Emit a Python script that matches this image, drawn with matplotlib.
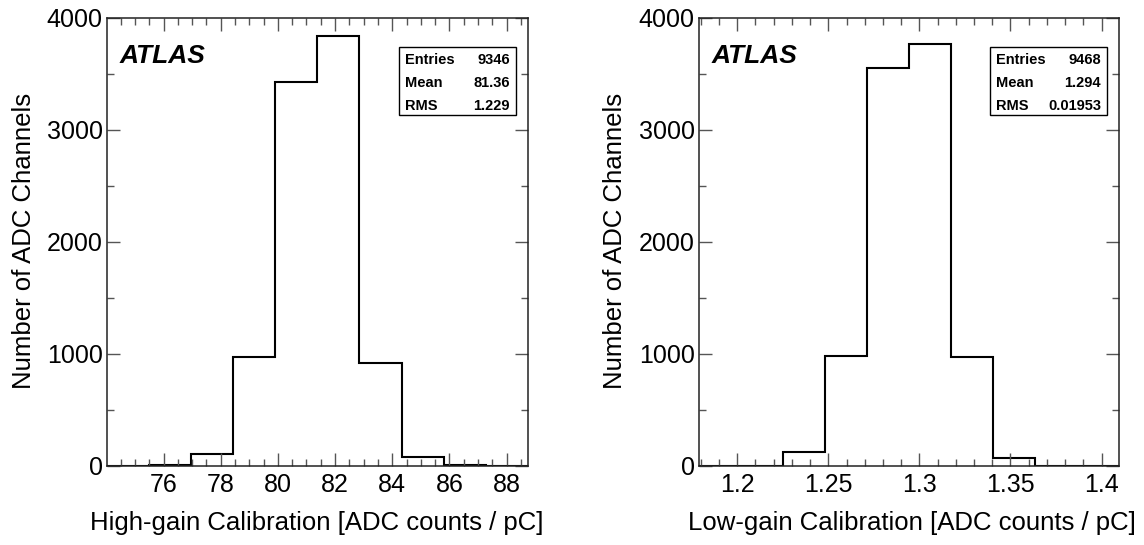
import numpy as np
import matplotlib
matplotlib.use("Agg")
import matplotlib.pyplot as plt
from matplotlib.ticker import MultipleLocator
from matplotlib.patches import Rectangle

plt.rcParams['font.family'] = ['Liberation Sans', 'DejaVu Sans']

# high-gain histogram (10 bins)
hg_edges = np.linspace(74.0, 88.75, 11)
hg_counts = [0, 3, 102, 970, 3425, 3835, 920, 80, 3, 0]
hg_stats = ["9346", "81.36", "1.229"]

# low-gain histogram (10 bins)
lg_edges = np.linspace(1.179, 1.4096, 11)
lg_counts = [0, 0, 118, 978, 3550, 3768, 975, 70, 0, 0]
lg_stats = ["9468", "1.294", "0.01953"]

stat_names = ["Entries", "Mean", "RMS"]

fig = plt.figure(figsize=(11.44, 5.45), dpi=100)

panels = [
    dict(pos=[107/1144, 0.1455, 421/1144, 0.8215], edges=hg_edges, counts=hg_counts,
         stats=hg_stats, major=2, minor=0.5, xlim=(74.02, 88.75),
         xlabel="High-gain Calibration [ADC counts / pC]", xl_x=0.4755, yl_x=0.021,
         fmt="hg"),
    dict(pos=[699/1144, 0.1455, 420/1144, 0.8215], edges=lg_edges, counts=lg_counts,
         stats=lg_stats, major=0.05, minor=0.01, xlim=(1.179, 1.4096),
         xlabel="Low-gain Calibration [ADC counts / pC]", xl_x=0.9925, yl_x=0.5375,
         fmt="lg"),
]

for p in panels:
    ax = fig.add_axes(p['pos'])
    ax.stairs(p['counts'], p['edges'], color='black', lw=1.5, baseline=0)
    ax.set_xlim(*p['xlim'])
    ax.set_ylim(0, 4000)
    ax.xaxis.set_major_locator(MultipleLocator(p['major']))
    ax.xaxis.set_minor_locator(MultipleLocator(p['minor']))
    ax.yaxis.set_major_locator(MultipleLocator(1000))
    ax.yaxis.set_minor_locator(MultipleLocator(500))
    if p['fmt'] == "lg":
        ax.xaxis.set_major_formatter(lambda v, pos: ('%.2f' % v).rstrip('0').rstrip('.'))
    else:
        ax.xaxis.set_major_formatter(lambda v, pos: '%d' % round(v))
    ax.tick_params(which='both', direction='in', top=True, right=True,
                   labelsize=18, color='#555555', width=1)
    ax.tick_params(which='major', length=9.4)
    ax.tick_params(which='minor', length=4.7)
    ax.tick_params(axis='x', pad=5)
    ax.tick_params(axis='y', pad=3)
    for s in ax.spines.values():
        s.set_linewidth(1.1)
        s.set_color('#222222')

    ax.text(0.03, 0.915, "ATLAS", transform=ax.transAxes, fontsize=19,
            fontweight='bold', fontstyle='italic', va='center', ha='left')

    ax.add_patch(Rectangle((0.694, 0.783), 0.278, 0.153, transform=ax.transAxes,
                           fill=False, lw=1.0, edgecolor='black', zorder=5))
    for name, val, yy in zip(stat_names, p['stats'], [0.906, 0.855, 0.804]):
        ax.text(0.708, yy, name, transform=ax.transAxes, fontsize=10.5,
                fontweight='bold', va='center', ha='left')
        ax.text(0.957, yy, val, transform=ax.transAxes, fontsize=10.5,
                fontweight='bold', va='center', ha='right')

    fig.text(p['xl_x'], 0.027, p['xlabel'], fontsize=18.5, ha='right', va='baseline')
    fig.text(p['yl_x'], 0.557, "Number of ADC Channels", fontsize=18.5,
             rotation=90, ha='center', va='center')

fig.savefig("out.png", dpi=100)
